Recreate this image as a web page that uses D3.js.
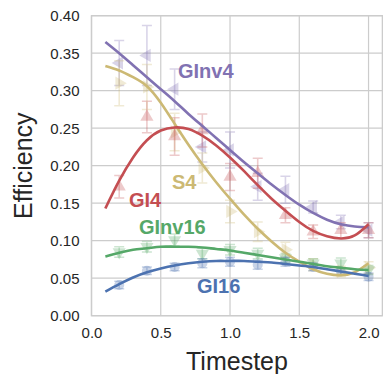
<!DOCTYPE html>
<html>
<head>
<meta charset="utf-8">
<script src="https://cdn.jsdelivr.net/npm/d3@7"></script>
<style>
  body { margin: 0; background: #fff; }
  svg { font-family: "Liberation Sans", Arial, sans-serif; }
</style>
</head>
<body>
<svg id="chart" width="383" height="374"></svg>
<script>
/********** Data **********/
var xTicks = [0.0, 0.5, 1.0, 1.5, 2.0];
var yTicks = [0.00, 0.05, 0.10, 0.15, 0.20, 0.25, 0.30, 0.35, 0.40];

// sample points (with error bars)
var steps = [0.2, 0.4, 0.6, 0.8, 1.0, 1.2, 1.4, 1.6, 1.8, 2.0];
var ginv4Pts  = [0.337, 0.347, 0.302, 0.225, 0.221, 0.172, 0.168, 0.145, 0.125, 0.114];
var ginv4Err  = [0.030, 0.040, 0.027, 0.020, 0.024, 0.018, 0.018, 0.008, 0.009, 0.010];
var s4Pts     = [0.310, 0.305, 0.245, 0.197, 0.139, 0.112, 0.088, 0.068, 0.059, 0.064];
var s4Err     = [0.030, 0.030, 0.025, 0.020, 0.015, 0.013, 0.010, 0.008, 0.007, 0.008];
var gi4Pts    = [0.172, 0.265, 0.239, 0.247, 0.185, 0.190, 0.134, 0.112, 0.114, 0.114];
var gi4Err    = [0.015, 0.021, 0.025, 0.022, 0.018, 0.020, 0.010, 0.009, 0.010, 0.010];
var ginv16Pts = [0.085, 0.092, 0.101, 0.083, 0.088, 0.083, 0.077, 0.070, 0.070, 0.061];
var ginv16Err = [0.007, 0.007, 0.008, 0.007, 0.007, 0.007, 0.006, 0.006, 0.007, 0.006];
var gi16Pts   = [0.041, 0.060, 0.065, 0.070, 0.072, 0.068, 0.072, 0.065, 0.059, 0.052];
var gi16Err   = [0.005, 0.005, 0.005, 0.006, 0.006, 0.006, 0.006, 0.005, 0.005, 0.005];

// fitted curves
var fitX      = [0.1, 0.2, 0.3, 0.4, 0.5, 0.6, 0.7, 0.8, 0.9, 1.0, 1.1, 1.2, 1.3, 1.4, 1.5, 1.6, 1.7, 1.8, 1.9, 2.0];
var ginv4Fit  = [0.365, 0.350, 0.334, 0.318, 0.302, 0.286, 0.269, 0.253, 0.237, 0.221, 0.205, 0.190, 0.175, 0.161, 0.148, 0.137, 0.128, 0.122, 0.119, 0.118];
var s4Fit     = [0.333, 0.327, 0.318, 0.306, 0.284, 0.256, 0.228, 0.202, 0.178, 0.156, 0.135, 0.116, 0.099, 0.084, 0.072, 0.062, 0.056, 0.054, 0.058, 0.070];
var gi4Fit    = [0.143, 0.180, 0.211, 0.234, 0.247, 0.251, 0.249, 0.240, 0.227, 0.211, 0.193, 0.174, 0.156, 0.140, 0.125, 0.113, 0.106, 0.103, 0.107, 0.122];
var ginv16Fit = [0.079, 0.084, 0.088, 0.090, 0.092, 0.092, 0.092, 0.091, 0.089, 0.087, 0.084, 0.081, 0.078, 0.075, 0.072, 0.069, 0.066, 0.064, 0.062, 0.061];
var gi16Fit   = [0.032, 0.042, 0.051, 0.058, 0.063, 0.067, 0.070, 0.072, 0.073, 0.073, 0.073, 0.072, 0.071, 0.069, 0.067, 0.065, 0.062, 0.059, 0.056, 0.053];

var series = [
  {name: "GInv4",  color: "#8172B2", marker: "left",  pts: ginv4Pts,  err: ginv4Err,  fit: ginv4Fit,  lx: 178, ly: 78},
  {name: "S4",     color: "#CCB974", marker: "right", pts: s4Pts,     err: s4Err,     fit: s4Fit,     lx: 172, ly: 189},
  {name: "GI4",    color: "#C44E52", marker: "up",    pts: gi4Pts,    err: gi4Err,    fit: gi4Fit,    lx: 129, ly: 207},
  {name: "GInv16", color: "#55A868", marker: "down",  pts: ginv16Pts, err: ginv16Err, fit: ginv16Fit, lx: 139, ly: 234},
  {name: "GI16",   color: "#4C72B0", marker: "circle",pts: gi16Pts,   err: gi16Err,   fit: gi16Fit,   lx: 197, ly: 293}
];

/********** Chart **********/
var svg = d3.select("#chart"),
    margin = {top: 15.7, right: 0.6, bottom: 58.3, left: 91.5},
    width = +svg.attr("width") - margin.left - margin.right,
    height = +svg.attr("height") - margin.top - margin.bottom;

var x = d3.scaleLinear().domain([0, 2.1]).range([0, width]);
var y = d3.scaleLinear().domain([0, 0.4]).range([height, 0]);

var g = svg.append("g")
    .attr("transform", "translate(" + margin.left + "," + margin.top + ")");

// grid
g.append("g").selectAll("line")
    .data(xTicks).enter().append("line")
    .attr("x1", x).attr("x2", x)
    .attr("y1", 0).attr("y2", height)
    .attr("stroke", "#cccccc").attr("stroke-width", 1.2);

g.append("g").selectAll("line")
    .data(yTicks).enter().append("line")
    .attr("x1", 0).attr("x2", width)
    .attr("y1", y).attr("y2", y)
    .attr("stroke", "#cccccc").attr("stroke-width", 1.2);

// frame
g.append("rect")
    .attr("x", 0).attr("y", 0)
    .attr("width", width).attr("height", height)
    .attr("fill", "none")
    .attr("stroke", "#cccccc").attr("stroke-width", 1.4);

// axes (labels only, seaborn style)
var xAxis = g.append("g")
    .attr("transform", "translate(0," + height + ")")
    .call(d3.axisBottom(x).tickValues(xTicks).tickFormat(d3.format(".1f")).tickSize(0).tickPadding(12));
var yAxis = g.append("g")
    .call(d3.axisLeft(y).tickValues(yTicks).tickFormat(d3.format(".2f")).tickSize(0).tickPadding(12));

[xAxis, yAxis].forEach(function(a) {
  a.select(".domain").remove();
  a.selectAll("text")
      .attr("font-family", "'Liberation Sans', Arial, sans-serif")
      .attr("font-size", 15)
      .attr("fill", "#262626");
});

// axis titles
svg.append("text")
    .attr("x", margin.left + width / 2)
    .attr("y", 370)
    .attr("text-anchor", "middle")
    .attr("font-size", 25)
    .attr("fill", "#262626")
    .text("Timestep");

svg.append("text")
    .attr("transform", "translate(32," + (margin.top + height / 2) + ") rotate(-90)")
    .attr("text-anchor", "middle")
    .attr("font-size", 25)
    .attr("fill", "#262626")
    .text("Efficiency");

// markers
var rotation = {up: 0, right: 90, down: 180, left: 270};

function markerPath(kind) {
  if (kind === "circle") return d3.symbol().type(d3.symbolCircle).size(80)();
  return d3.symbol().type(d3.symbolTriangle).size(75)();
}

var capW = 5;

series.forEach(function(s) {
  var pts = steps.map(function(t, i) { return {x: t, y: s.pts[i], e: s.err[i]}; });
  var grp = g.append("g");

  grp.selectAll("path.err")
      .data(pts).enter().append("path")
      .attr("class", "err")
      .attr("d", function(d) {
        var px = x(d.x), y1 = y(d.y + d.e), y2 = y(d.y - d.e);
        return "M" + (px - capW) + "," + y1 + "H" + (px + capW) +
               "M" + px + "," + y1 + "V" + y2 +
               "M" + (px - capW) + "," + y2 + "H" + (px + capW);
      })
      .attr("stroke", s.color)
      .attr("stroke-opacity", 0.3)
      .attr("stroke-width", 1.6)
      .attr("fill", "none");

  grp.selectAll("path.mk")
      .data(pts).enter().append("path")
      .attr("class", "mk")
      .attr("d", markerPath(s.marker))
      .attr("transform", function(d) {
        var r = s.marker === "circle" ? 0 : rotation[s.marker];
        return "translate(" + x(d.x) + "," + y(d.y) + ") rotate(" + r + ")";
      })
      .attr("fill", s.color)
      .attr("fill-opacity", 0.3);
});

// fitted lines
var line = d3.line()
    .x(function(d) { return x(d[0]); })
    .y(function(d) { return y(d[1]); })
    .curve(d3.curveNatural);

series.forEach(function(s) {
  g.append("path")
      .datum(fitX.map(function(t, i) { return [t, s.fit[i]]; }))
      .attr("d", line)
      .attr("fill", "none")
      .attr("stroke", s.color)
      .attr("stroke-width", 2.6);
});

// series labels
series.forEach(function(s) {
  svg.append("text")
      .attr("x", s.lx)
      .attr("y", s.ly)
      .attr("font-size", 20)
      .attr("font-weight", "bold")
      .attr("fill", s.color)
      .text(s.name);
});
</script>
</body>
</html>
